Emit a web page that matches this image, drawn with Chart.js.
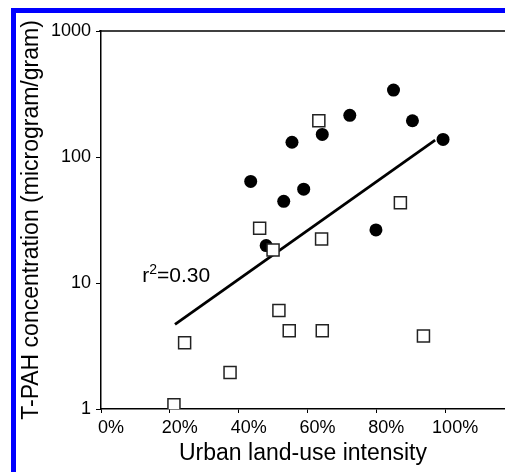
<!DOCTYPE html>
<html>
<head>
<meta charset="utf-8">
<script src="https://cdn.jsdelivr.net/npm/chart.js@4.4.0/dist/chart.umd.min.js"></script>
<style>
  html, body { margin: 0; padding: 0; background: #fff; overflow: hidden; }
  #frame { position: absolute; left: 11px; top: 8px; width: 520px; height: 500px;
           border-top: 5px solid #0000ff; border-left: 5px solid #0000ff; }
  #c { position: absolute; left: 0; top: 0; z-index: 1; }
</style>
</head>
<body>
<div id="frame"></div>
<canvas id="c" width="505" height="472"></canvas>
<script>
// Urban land-use intensity (%) and T-PAH concentration (microgram/gram)
const circleX = [43.5, 48.0, 53.1, 55.5, 58.9, 64.3, 72.3, 79.9, 85.0, 90.5, 99.4];
const circleY = [64, 19.8, 44.5, 131, 55.5, 151, 214, 26.4, 340, 194, 138];

const squareX = [21.2, 24.3, 37.5, 46.1, 50.0, 51.7, 54.7, 63.3, 64.1, 64.3, 87.0, 93.7];
const squareY = [1.08, 3.36, 1.95, 27.2, 18.3, 6.05, 4.18, 194, 22.3, 4.18, 43.4, 3.79];

const fitX = [21.5, 97.1];
const fitY = [4.69, 136];

const xTicks = [0, 20, 40, 60, 80, 100];
const yTicks = [1, 10, 100, 1000];
const annotation = { x: 12, y: 10.1, base: 'r', sup: '2', rest: '=0.30' };

const zip = (xs, ys) => xs.map((x, i) => ({ x: x, y: ys[i] }));
const FONT = "'Liberation Sans', Arial, sans-serif";

const topLine = {
  id: 'topLine',
  afterDatasetsDraw(chart) {
    const { ctx, chartArea } = chart;
    ctx.save();
    ctx.strokeStyle = '#000';
    ctx.lineWidth = 1.5;
    ctx.beginPath();
    ctx.moveTo(chartArea.left - 2, chartArea.top);
    ctx.lineTo(chartArea.right, chartArea.top);
    ctx.stroke();
    // r^2 annotation
    const xs = chart.scales.x, ys = chart.scales.y;
    const px = xs.getPixelForValue(annotation.x);
    const py = ys.getPixelForValue(annotation.y);
    ctx.fillStyle = '#000';
    ctx.textBaseline = 'alphabetic';
    ctx.textAlign = 'left';
    ctx.font = '21px ' + FONT;
    ctx.fillText(annotation.base, px, py);
    let w = ctx.measureText(annotation.base).width;
    ctx.font = '14px ' + FONT;
    ctx.fillText(annotation.sup, px + w, py - 8);
    w += ctx.measureText(annotation.sup).width;
    ctx.font = '21px ' + FONT;
    ctx.fillText(annotation.rest, px + w, py);
    ctx.restore();
  }
};

new Chart(document.getElementById('c'), {
  type: 'scatter',
  data: {
    datasets: [
      {
        label: 'open',
        data: zip(squareX, squareY),
        pointStyle: 'rect',
        pointRadius: 8.5,
        backgroundColor: '#fff',
        borderColor: '#222',
        borderWidth: 1.5,
        order: 0
      },
      {
        label: 'filled',
        data: zip(circleX, circleY),
        pointStyle: 'circle',
        pointRadius: 6.5,
        backgroundColor: '#000',
        borderColor: '#000',
        borderWidth: 0,
        order: 1
      },
      {
        label: 'fit',
        type: 'line',
        data: zip(fitX, fitY),
        borderColor: '#000',
        borderWidth: 2.8,
        pointRadius: 0,
        fill: false,
        order: 2
      }
    ]
  },
  options: {
    responsive: false,
    animation: false,
    events: [],
    layout: { autoPadding: false, padding: { top: 31, right: 0, bottom: 0, left: 0 } },
    plugins: { legend: { display: false }, tooltip: { enabled: false } },
    scales: {
      x: {
        type: 'linear',
        min: 0,
        max: 117.4,
        afterBuildTicks: (s) => { s.ticks = xTicks.map(v => ({ value: v })); },
        afterFit: (s) => { s.height = 63; s.paddingRight = 0; s.paddingLeft = 0; },
        grid: { display: true, drawOnChartArea: false, tickLength: 4, color: '#000', tickWidth: 1 },
        border: { display: true, color: '#000', width: 1.5 },
        ticks: { color: '#000', font: { family: FONT, size: 18 }, padding: 4, maxRotation: 0,
                 labelOffset: 10, callback: (v) => v + '%' },
        title: { display: true, text: 'Urban land-use intensity', color: '#000',
                 font: { family: FONT, size: 23 }, padding: { top: 0, bottom: 5 } }
      },
      y: {
        type: 'logarithmic',
        min: 1,
        max: 1000,
        afterBuildTicks: (s) => { s.ticks = yTicks.map(v => ({ value: v })); },
        afterFit: (s) => { s.width = 101; s.paddingTop = 0; s.paddingBottom = 0; },
        grid: { display: true, drawOnChartArea: false, tickLength: 5, color: '#000', tickWidth: 1 },
        border: { display: true, color: '#000', width: 1.5 },
        ticks: { color: '#000', font: { family: FONT, size: 18 }, padding: 5,
                 callback: (v) => String(v) },
        title: { display: true, text: 'T-PAH concentration (microgram/gram)', color: '#000',
                 font: { family: FONT, size: 23 }, padding: { top: 18, bottom: 0 } }
      }
    }
  },
  plugins: [topLine]
});
</script>
</body>
</html>
